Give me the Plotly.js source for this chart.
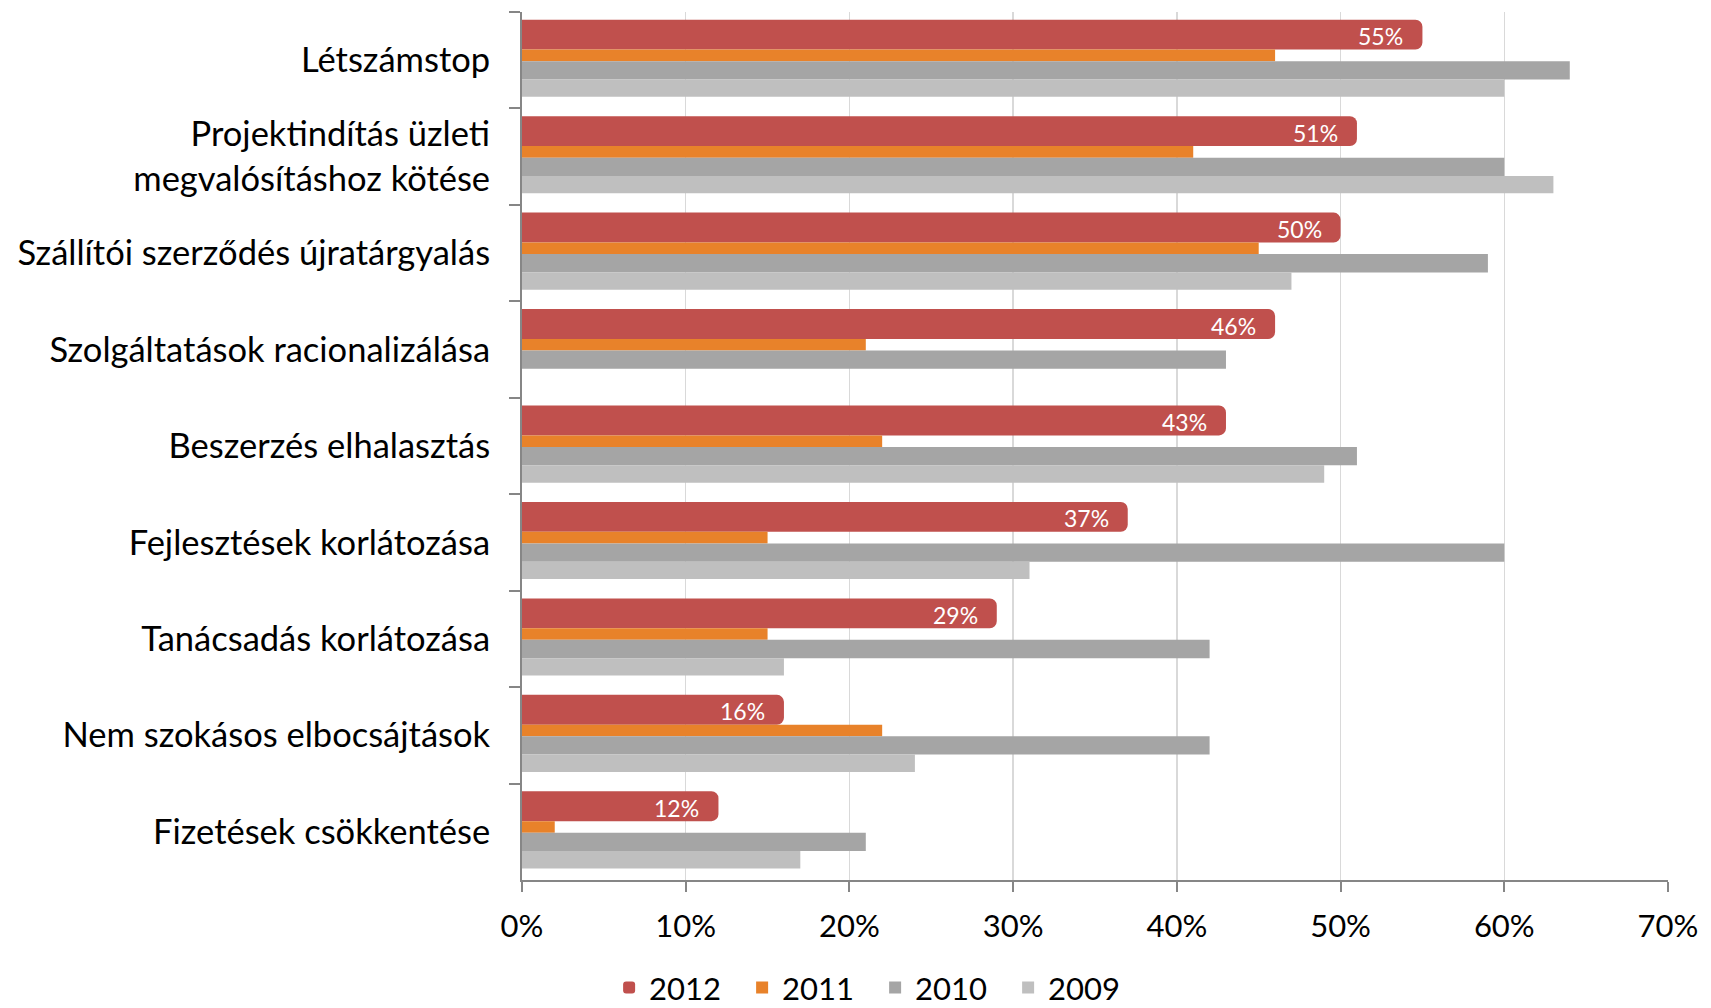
<!DOCTYPE html>
<html>
<head>
<meta charset="utf-8">
<script src="https://cdn.plot.ly/plotly-3.0.1.min.js"></script>
<style>
html,body{margin:0;padding:0;background:#fff;}
#chart{width:1711px;height:1008px;}
</style>
</head>
<body>
<div id="chart"></div>
<script>
const categories = [
  "Létszámstop",
  "Projektindítás üzleti<br>megvalósításhoz kötése",
  "Szállítói szerződés újratárgyalás",
  "Szolgáltatások racionalizálása",
  "Beszerzés elhalasztás",
  "Fejlesztések korlátozása",
  "Tanácsadás korlátozása",
  "Nem szokásos elbocsájtások",
  "Fizetések csökkentése"
];
const v2012 = [55, 51, 50, 46, 43, 37, 29, 16, 12];
const v2011 = [46, 41, 45, 21, 22, 15, 15, 22, 2];
const v2010 = [64, 60, 59, 43, 51, 60, 42, 42, 21];
const v2009 = [60, 63, 47, null, 49, 31, 16, 24, 17];
const seriesNames = ["2012", "2011", "2010", "2009"];
const xTickVals = [0, 10, 20, 30, 40, 50, 60, 70];
const xTickText = ["0%", "10%", "20%", "30%", "40%", "50%", "60%", "70%"];

const FONT = "Lato, 'Open Sans', sans-serif";

const traces = [
  {name: seriesNames[0], values: v2012, color: "#c0504d", offset: -0.42, width: 0.31, radius: 7},
  {name: seriesNames[1], values: v2011, color: "#e8822a", offset: -0.11, width: 0.12, radius: 0},
  {name: seriesNames[2], values: v2010, color: "#a5a5a5", offset: 0.01, width: 0.19, radius: 0},
  {name: seriesNames[3], values: v2009, color: "#bfbfbf", offset: 0.20, width: 0.18, radius: 0}
].map(s => ({
  type: "bar",
  orientation: "h",
  name: s.name,
  x: s.values,
  y: categories,
  offset: s.offset,
  width: s.width,
  marker: {color: s.color, line: {width: 0}, cornerradius: s.radius},
  hoverinfo: "x+y+name"
}));

const annotations = v2012.map((v, i) => ({
  x: v,
  y: categories[i],
  xref: "x",
  yref: "y",
  text: v + "%",
  showarrow: false,
  xanchor: "right",
  yanchor: "middle",
  xshift: -17,
  yshift: 24,
  font: {family: FONT, size: 23, color: "#ffffff"}
}));

const layout = {
  width: 1711,
  height: 1008,
  margin: {l: 522, r: 43, t: 12, b: 128, pad: 0},
  paper_bgcolor: "#ffffff",
  plot_bgcolor: "#ffffff",
  barmode: "overlay",
  font: {family: FONT, color: "#000000", size: 31},
  showlegend: true,
  legend: {
    orientation: "h",
    xref: "container",
    yref: "container",
    x: 0.356,
    xanchor: "left",
    y: 0.02,
    yanchor: "middle",
    traceorder: "normal",
    entrywidth: 88,
    entrywidthmode: "pixels",
    font: {family: FONT, size: 31, color: "#000000"},
    bgcolor: "rgba(0,0,0,0)"
  },
  xaxis: {
    range: [0, 70],
    tickvals: xTickVals,
    ticktext: xTickText,
    showgrid: true,
    gridcolor: "#d9d9d9",
    gridwidth: 1.5,
    zeroline: false,
    showline: true,
    linecolor: "#868686",
    linewidth: 2,
    ticks: "outside",
    ticklen: 10,
    tickwidth: 2,
    tickcolor: "#868686",
    ticklabelstandoff: 8,
    tickfont: {family: FONT, size: 31, color: "#000000"},
    fixedrange: true
  },
  yaxis: {
    type: "category",
    autorange: false,
    range: [8.5, -0.5],
    showgrid: false,
    zeroline: false,
    showline: true,
    linecolor: "#868686",
    linewidth: 2,
    ticks: "outside",
    tickson: "boundaries",
    ticklen: 11,
    tickwidth: 2,
    tickcolor: "#868686",
    ticklabelstandoff: 23,
    tickfont: {family: FONT, size: 34.5, color: "#000000"},
    fixedrange: true
  },
  annotations: annotations
};

Plotly.newPlot("chart", traces, layout, {displayModeBar: false, staticPlot: true});
</script>
</body>
</html>
